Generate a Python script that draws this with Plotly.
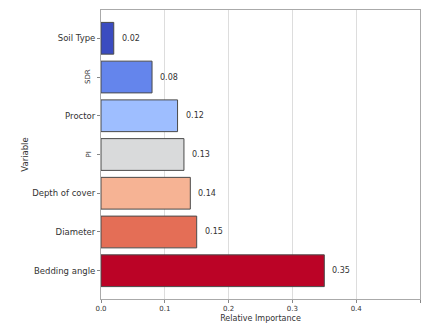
import plotly.graph_objects as go

# Feature importances (top to bottom)
variables = ["Soil Type", "SDR", "Proctor", "PI", "Depth of cover", "Diameter", "Bedding angle"]
importance = [0.02, 0.08, 0.12, 0.13, 0.14, 0.15, 0.35]
value_labels = ["0.02", "0.08", "0.12", "0.13", "0.14", "0.15", "0.35"]
x_ticks = [0.0, 0.1, 0.2, 0.3, 0.4, 0.5]
rotated = {"SDR", "PI"}  # short names drawn vertically

# coolwarm samples, one per bar
colors = ["#3b4cc0", "#6485ec", "#9ebeff", "#d9dadb", "#f6b394", "#e46e56", "#bb0326"]

fig = go.Figure()
fig.add_trace(go.Bar(
    x=importance,
    y=variables,
    orientation="h",
    width=0.82,
    marker=dict(color=colors, line=dict(color="#4a4a4a", width=1)),
    showlegend=False,
))

ticktext = ["" if v in rotated else v for v in variables]

annotations = []
# value labels just right of each bar end
for v, val, lab in zip(variables, importance, value_labels):
    annotations.append(dict(
        x=val, xref="x", xanchor="left", xshift=6,
        y=v, yref="y", yanchor="middle",
        text=lab, showarrow=False,
        font=dict(size=8, color="#333333", family="DejaVu Sans"),
    ))
for v in variables:
    if v in rotated:
        annotations.append(dict(
            x=0, xref="paper", xanchor="right", xshift=-7,
            y=v, yref="y", yanchor="middle",
            text=v, textangle=-90, showarrow=False,
            font=dict(size=7, color="#333333", family="DejaVu Sans"),
        ))

fig.update_layout(
    width=424, height=324,
    margin=dict(l=101, r=4, t=10, b=25),
    paper_bgcolor="white", plot_bgcolor="white",
    font=dict(family="DejaVu Sans", size=8, color="#333333"),
    annotations=annotations,
)
fig.update_xaxes(
    range=[0, 0.5], tickvals=x_ticks, ticktext=[f"{t:.1f}" for t in x_ticks],
    showgrid=True, gridcolor="#dddddd", gridwidth=1,
    showline=True, linecolor="#aaaaaa", mirror=True,
    ticks="outside", ticklen=3, tickcolor="#888888",
    tickfont=dict(size=7),
    title=dict(text="Relative Importance", font=dict(size=8), standoff=2),
    zeroline=False,
)
fig.update_yaxes(
    categoryorder="array", categoryarray=variables,
    tickvals=variables, ticktext=ticktext,
    range=[6.73, -0.73],
    showgrid=False,
    showline=True, linecolor="#aaaaaa", mirror=True,
    ticks="outside", ticklen=3, tickcolor="#888888",
    tickfont=dict(size=8.5),
    title=dict(text="Variable", font=dict(size=8.5), standoff=2),
)

fig.write_html("out.html")
